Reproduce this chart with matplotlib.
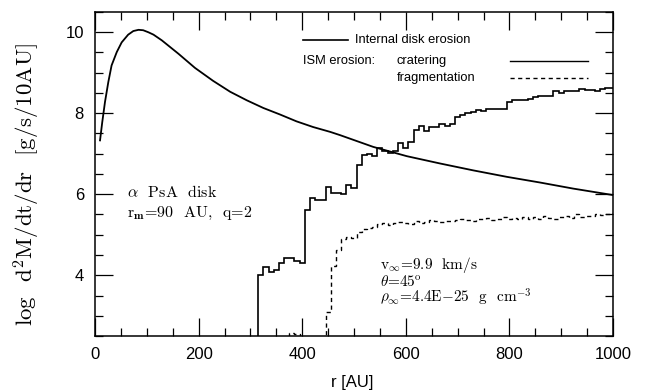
import numpy as np
import matplotlib
matplotlib.use("Agg")
import matplotlib.pyplot as plt
from matplotlib.ticker import MultipleLocator

# internal disk erosion (smooth curve)
disk_r = [9.7, 14, 19.3, 25.7, 32, 42, 51.5, 64, 74, 84, 93, 103, 113, 129, 161, 193, 228,
          261, 293, 325, 357, 389, 421, 454, 473, 537, 602, 666, 730, 795, 859, 923, 1000]
disk_val = [7.33, 7.78, 8.28, 8.77, 9.18, 9.51, 9.75, 9.94, 10.03, 10.06, 10.05, 10.00, 9.94,
            9.80, 9.47, 9.12, 8.80, 8.53, 8.32, 8.13, 7.97, 7.80, 7.66, 7.54, 7.46, 7.17,
            6.94, 6.76, 6.59, 6.43, 6.29, 6.14, 5.98]

# ISM erosion, cratering (10 AU bins, first bin centred on 320 AU)
crat_start = 315
crat_val = [4.00, 4.21, 4.09, 4.13, 4.30, 4.43, 4.43, 4.36, 4.30,
            5.61, 5.90, 5.85, 5.85, 6.18, 6.03, 6.03, 6.00, 6.22, 6.15,
            6.72, 6.96, 7.00, 6.94, 7.14, 7.07, 7.03, 7.07, 7.27, 7.15,
            7.30, 7.58, 7.69, 7.55, 7.65, 7.66, 7.74, 7.68, 7.74, 7.90,
            7.95, 8.00, 8.03, 8.07, 8.05, 8.10, 8.10, 8.10, 8.10, 8.28,
            8.33, 8.32, 8.33, 8.35, 8.40, 8.42, 8.42, 8.42, 8.55, 8.50,
            8.55, 8.56, 8.56, 8.60, 8.58, 8.58, 8.56, 8.60, 8.63, 8.63]

# ISM erosion, fragmentation (10 AU bins, first bin centred on 370 AU)
frag_start = 365
frag_val = [2.30, 2.57, 2.56, 2.30, 2.30, 2.30, 2.30, 2.30,
            3.10, 4.22, 4.62, 4.90, 4.95, 4.92, 5.08, 5.15, 5.16, 5.18,
            5.26, 5.28, 5.24, 5.28, 5.32, 5.30, 5.27, 5.35, 5.30, 5.31,
            5.36, 5.33, 5.32, 5.35, 5.33, 5.37, 5.38, 5.36, 5.35, 5.40,
            5.38, 5.41, 5.37, 5.40, 5.43, 5.38, 5.42, 5.40, 5.45, 5.38,
            5.43, 5.40, 5.46, 5.42, 5.38, 5.45, 5.47, 5.42, 5.50, 5.44,
            5.47, 5.46, 5.52, 5.48, 5.50, 5.53]

plt.rcParams['mathtext.fontset'] = 'cm'
plt.rcParams['axes.unicode_minus'] = False
sans = 'Liberation Sans'
serif = 'cmr10'
dash = (0, (3, 2.5))

fig = plt.figure(figsize=(6.47, 3.92), dpi=100)
ax = fig.add_axes([95/647, 1-336/392, 518/647, 324/392])

ax.plot(disk_r, disk_val, color='black', lw=1.3)

crat_edges = crat_start + 10*np.arange(len(crat_val)+1)
ax.stairs(crat_val, crat_edges, baseline=0, color='black', lw=1.2)
frag_edges = frag_start + 10*np.arange(len(frag_val)+1)
ax.stairs(frag_val, frag_edges, baseline=0, color='black', lw=1.0, linestyle=dash)

ax.set_xlim(0, 1000)
ax.set_ylim(2.5, 10.5)
ax.xaxis.set_major_locator(MultipleLocator(200))
ax.xaxis.set_minor_locator(MultipleLocator(50))
ax.yaxis.set_major_locator(MultipleLocator(2))
ax.yaxis.set_minor_locator(MultipleLocator(0.5))
ax.tick_params(which='both', direction='in', top=True, right=True, width=0.9)
ax.tick_params(which='major', length=13, pad=8, labelsize=12)
ax.tick_params(which='minor', length=6)
for lab in ax.get_xticklabels() + ax.get_yticklabels():
    lab.set_family(sans)
for s in ax.spines.values():
    s.set_linewidth(1.1)

# legend drawn by hand
ax.plot([0.4015, 0.4884], [0.9136, 0.9136], transform=ax.transAxes, color='black', lw=1.2)
ax.text(0.502, 0.9136, 'Internal disk erosion', transform=ax.transAxes,
        family=sans, fontsize=9.3, va='center')
ax.text(0.4015, 0.8488, 'ISM erosion:', transform=ax.transAxes,
        family=sans, fontsize=9.3, va='center')
ax.text(0.583, 0.8488, 'cratering', transform=ax.transAxes,
        family=sans, fontsize=9.3, va='center')
ax.text(0.583, 0.7963, 'fragmentation', transform=ax.transAxes,
        family=sans, fontsize=9.3, va='center')
ax.plot([0.801, 0.952], [0.8488, 0.8488], transform=ax.transAxes, color='black', lw=1.0)
ax.plot([0.801, 0.952], [0.7963, 0.7963], transform=ax.transAxes, color='black', lw=1.0,
        linestyle=dash)

# annotations
ax.text(62, 5.94, r'$\alpha$  PsA  disk', family=serif, fontsize=11.5, va='baseline')
ax.text(62, 5.44, r'$\mathrm{r}_{\mathbf{m}}$=90  AU,  q=2', family=serif, fontsize=11.5,
        va='baseline')
ism_note = (r'$\mathrm{v}_{\infty}$=9.9  km/s' + '\n'
            + r'$\theta$=4$\mathrm{5}^{\mathrm{o}}$' + '\n'
            + r'$\rho_{\infty}$=4.4E${-}$25  g  c$\mathrm{m}^{-3}$')
ax.text(550, 3.31, ism_note, family=serif, fontsize=11, va='baseline', ha='left',
        multialignment='left', linespacing=0.9)

fig.text(27/647, 1-185/392, r'log  $\mathrm{d}^2\mathrm{M}$/dt/dr  [g/s/10AU]',
         family=serif, rotation=90, ha='center', va='center', fontsize=16.5)
fig.text(352/647, 1-383/392, 'r [AU]', family=sans, fontsize=12, ha='center', va='center')

fig.savefig('out.png', dpi=100)
